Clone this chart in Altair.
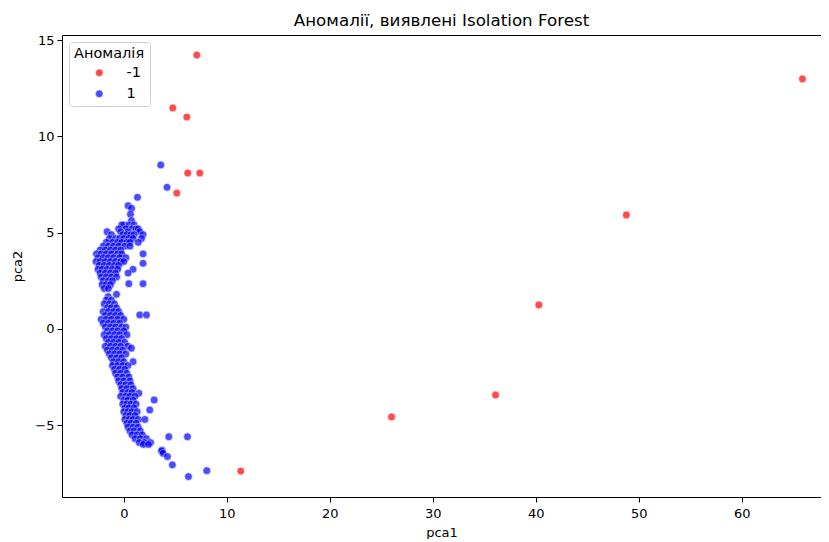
import altair as alt
import pandas as pd

# Anomalies (label -1)
red_x = [7.09, 4.76, 6.12, 6.21, 7.38, 5.15, 65.9, 48.8, 40.3, 36.1, 26.0, 11.36]
red_y = [14.23, 11.48, 11.01, 8.10, 8.10, 7.06, 12.99, 5.92, 1.25, -3.43, -4.57, -7.38]

# Normal points (label 1), read row by row (y level -> x values)
blue_rows = [
    (8.52, [3.59]), (7.36, [4.2]), (6.84, [1.33]), (6.4, [0.42]), (6.27, [0.75]),
    (5.96, [0.65]), (5.63, [0.75]),
    (5.4, [0.03, -0.2, 0.5, 1.0]),
    (5.2, [-0.5, 0.2, 0.8, 1.2, 1.4]),
    (5.05, [-1.62, -0.3, 0.4, 1.55]),
    (4.9, [-1.2, -0.1, 0.3, 0.7, 1.0, 1.87]),
    (4.7, [-1.4, -0.8, -0.4, 0.0, 0.5, 0.9, 1.72]),
    (4.5, [-1.7, -1.1, -0.6, -0.2, 0.3, 0.6, 1.4]),
    (4.3, [-2.0, -1.5, -1.0, -0.5, 0.1, 0.6]),
    (4.1, [-2.3, -1.8, -1.3, -0.8, -0.3]),
    (3.9, [-2.65, -2.2, -1.7, -1.2, -0.6, -0.2, 1.87]),
    (3.7, [-2.5, -2.0, -1.5, -1.0, -0.4, 0.2]),
    (3.5, [-2.7, -2.3, -1.8, -1.3, -0.8, -0.3, 0.0]),
    (3.41, [1.87]),
    (3.3, [-2.4, -1.9, -1.4, -0.9, -0.5]),
    (3.1, [-2.5, -2.1, -1.6, -1.1, -0.6, 0.9]),
    (2.9, [-2.3, -1.8, -1.3, -0.8, 0.42]),
    (2.7, [-2.2, -1.7, -1.2, -0.7]),
    (2.5, [-2.0, -1.5, -1.1]),
    (2.35, [0.49, 1.87]),
    (2.3, [-2.1, -1.7, -1.3]),
    (2.1, [-1.9, -1.5]),
    (1.8, [-0.71]), (1.68, [-1.52]),
    (1.5, [-1.7, -1.2]),
    (1.3, [-1.9, -1.4, -0.9]),
    (1.1, [-1.6, -1.2, -0.7]),
    (0.9, [-2.0, -1.5, -1.0, -0.5]),
    (0.73, [1.55, 2.2]),
    (0.7, [-1.8, -1.3, -0.8, -0.3]),
    (0.5, [-2.2, -1.7, -1.2, -0.6, 0.0]),
    (0.3, [-2.0, -1.5, -1.0, -0.4]),
    (0.1, [-1.8, -1.3, -0.8, -0.2, 0.2]),
    (-0.1, [-1.6, -1.1, -0.6, 0.0]),
    (-0.3, [-1.9, -1.4, -0.9, -0.4, 0.3]),
    (-0.5, [-1.7, -1.2, -0.7, -0.2]),
    (-0.7, [-1.5, -1.0, -0.5, 0.1]),
    (-0.9, [-1.8, -1.3, -0.8, -0.3, 0.4]),
    (-1.0, [0.74]),
    (-1.1, [-1.6, -1.1, -0.6, -0.1]),
    (-1.3, [-1.4, -0.9, -0.4, 0.2]),
    (-1.5, [-1.2, -0.7, -0.2]),
    (-1.7, [-1.0, -0.5, 0.0, 0.9]),
    (-1.9, [-1.1, -0.6, -0.1, 0.4]),
    (-2.1, [-0.9, -0.4, 0.1]),
    (-2.3, [-0.8, -0.3, 0.3]),
    (-2.5, [-0.6, -0.1, 0.5]),
    (-2.7, [-0.5, 0.0, 0.6]),
    (-2.9, [-0.3, 0.2, 0.7]),
    (-3.1, [-0.2, 0.3, 0.9]),
    (-3.34, [1.46]),
    (-3.3, [-0.1, 0.4, 0.8]),
    (-3.5, [-0.3, 0.2, 0.6, 1.1]),
    (-3.69, [2.95]),
    (-3.7, [0.0, 0.4, 0.9]),
    (-3.9, [-0.1, 0.3, 0.7, 1.2]),
    (-4.1, [0.1, 0.5, 1.0]),
    (-4.21, [2.52]),
    (-4.3, [0.0, 0.4, 0.8, 1.3]),
    (-4.5, [0.2, 0.6, 1.1]),
    (-4.7, [0.1, 0.5, 0.9, 1.4, 2.04]),
    (-4.9, [0.3, 0.7, 1.2]),
    (-5.1, [0.4, 0.9, 1.4]),
    (-5.3, [0.6, 1.0, 1.6]),
    (-5.5, [0.8, 1.3, 1.8]),
    (-5.6, [4.37, 6.18]),
    (-5.7, [1.1, 1.6, 2.2]),
    (-5.9, [1.5, 2.0, 2.6]),
    (-6.0, [1.9, 2.4]),
    (-6.29, [3.72]), (-6.34, [3.66]), (-6.46, [3.82]), (-6.63, [4.24]),
    (-7.06, [4.72]), (-7.36, [8.06]), (-7.67, [6.28]),
]

labels = ["-1", "1"]
colors = ["red", "blue"]
x_ticks = [0, 10, 20, 30, 40, 50, 60]
y_ticks = [-5, 0, 5, 10, 15]

rows = []
for x, y in zip(red_x, red_y):
    rows.append({"pca1": x, "pca2": y, "Аномалія": "-1"})
for y, xs in blue_rows:
    for x in xs:
        rows.append({"pca1": x, "pca2": y, "Аномалія": "1"})
df = pd.DataFrame(rows)

FONT = "DejaVu Sans"

chart = alt.Chart(df).mark_circle(
    size=60, opacity=0.7, stroke="white", strokeWidth=0.6
).encode(
    x=alt.X("pca1:Q", scale=alt.Scale(domain=[-6.0, 67.7], nice=False, zero=False),
            axis=alt.Axis(values=x_ticks, title="pca1")),
    y=alt.Y("pca2:Q", scale=alt.Scale(domain=[-8.73, 15.27], nice=False, zero=False),
            axis=alt.Axis(values=y_ticks, title="pca2")),
    color=alt.Color("Аномалія:N", scale=alt.Scale(domain=labels, range=colors),
                    legend=alt.Legend(
                        orient="top-left", offset=7, title="Аномалія",
                        fillColor="white", strokeColor="#d0d0d0", cornerRadius=3,
                        padding=5, symbolOffset=18, labelOffset=20, rowPadding=6,
                        titlePadding=4, symbolSize=60, symbolOpacity=0.7,
                        titleFontWeight="normal", titleFontSize=14.5, labelFontSize=14.5,
                        titleFont=FONT, labelFont=FONT, titleColor="black",
                        labelColor="black", symbolStrokeColor="white",
                        symbolStrokeWidth=0.6)),
).properties(
    width=759, height=462,
    title=alt.Title("Аномалії, виявлені Isolation Forest", fontSize=16.7,
                    fontWeight="normal", font=FONT, color="black", offset=4),
    autosize=alt.AutoSizeParams(type="none"),
    padding={"left": 54, "top": 27, "right": 0, "bottom": 42},
).configure_view(
    stroke="black", strokeWidth=1
).configure_axis(
    grid=False, domain=False, tickColor="black", tickSize=5, tickWidth=1,
    labelFont=FONT, labelFontSize=13, labelColor="black",
    titleFont=FONT, titleFontSize=13, titleFontWeight="normal", titleColor="black",
).configure_axisX(labelPadding=5, titlePadding=6).configure_axisY(labelPadding=3, titlePadding=10)

chart.save("out.html", embed_options={"renderer": "svg", "actions": False})
